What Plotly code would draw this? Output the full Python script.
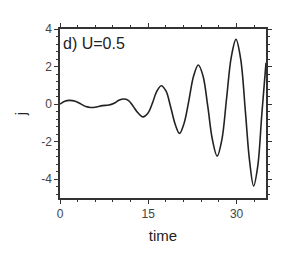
import plotly.graph_objects as go

# time points and current values
time = [0.0, 0.8, 1.6, 2.6, 3.6, 4.4, 5.2, 6.2, 7.2, 8.3, 9.2, 10.0, 10.8, 11.6,
        12.4, 13.2, 14.1, 14.9, 15.7, 16.4, 17.2, 18.0, 18.8, 19.6, 20.3, 21.1,
        21.9, 22.7, 23.5, 24.3, 25.1, 25.9, 26.7, 27.5, 28.3, 29.1, 29.9, 30.7,
        31.5, 32.2, 32.9, 33.6, 34.3, 35.0]
current = [0.0, 0.15, 0.2, 0.15, 0.0, -0.13, -0.18, -0.15, -0.08, -0.05, 0.05,
           0.2, 0.27, 0.2, -0.1, -0.45, -0.68, -0.5, 0.05, 0.65, 0.98, 0.7,
           -0.15, -1.1, -1.56, -1.0, 0.2, 1.5, 2.08, 1.5, -0.1, -1.9, -2.77,
           -1.9, 0.3, 2.5, 3.45, 2.4, -0.4, -3.0, -4.36, -3.3, -0.5, 2.2]

x_ticks = [0, 15, 30]
x_labels = ["0", "15", "30"]
y_ticks = [-4, -2, 0, 2, 4]
y_labels = ["-4", "-2", "0", "2", "4"]
panel_label = "d) U=0.5"

FONT = "Liberation Sans, Arial, sans-serif"

fig = go.Figure()
fig.add_trace(go.Scatter(x=time, y=current, mode="lines",
                         line=dict(color="#222222", width=1.6, shape="spline", smoothing=1.0),
                         showlegend=False))

axis_common = dict(showgrid=False, zeroline=False, showline=True, linecolor="#333333",
                   linewidth=1.5, mirror="ticks", ticks="outside", ticklen=4, tickwidth=1,
                   tickcolor="#333333", automargin=False,
                   tickfont=dict(family=FONT, size=12, color="#444444"))

fig.update_xaxes(range=[0, 35], tickvals=x_ticks, ticktext=x_labels,
                 title=dict(text="time", font=dict(family=FONT, size=15, color="#222222"),
                            standoff=10),
                 minor=dict(dtick=3, tick0=0, ticks="outside", ticklen=2, tickcolor="#333333", showgrid=False),
                 **axis_common)
fig.update_yaxes(range=[-5, 4], tickvals=y_ticks, ticktext=y_labels,
                 title=dict(text="j", font=dict(family=FONT, size=15, color="#222222"),
                            standoff=11),
                 minor=dict(dtick=0.4, tick0=0, ticks="outside", ticklen=2, tickcolor="#333333", showgrid=False),
                 **axis_common)

fig.add_annotation(x=0, y=1, xref="paper", yref="paper", xanchor="left", yanchor="top",
                   xshift=1, yshift=-4, text=panel_label, showarrow=False,
                   font=dict(family=FONT, size=16, color="#222222"))

# the page body has an 8px margin, so the figure is sized to fit the window
fig.update_layout(width=292, height=256, margin=dict(l=52, r=34, t=21, b=66),
                  plot_bgcolor="white", paper_bgcolor="white")

fig.write_html("out.html")
